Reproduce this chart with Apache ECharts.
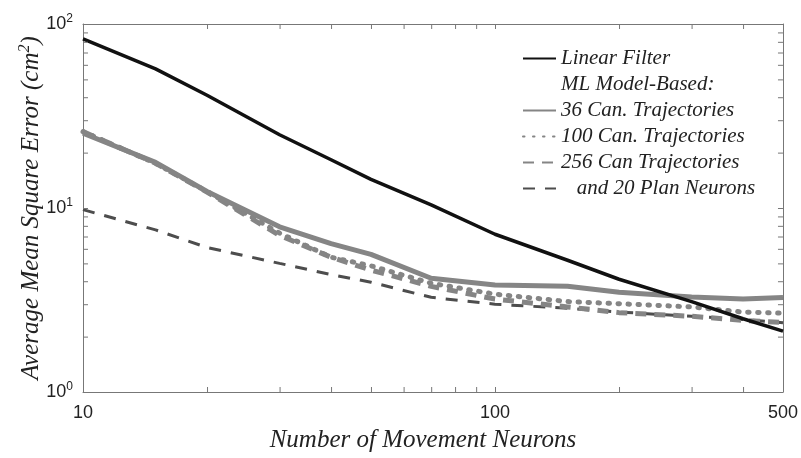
<!DOCTYPE html>
<html>
<head>
<meta charset="utf-8">
<script src="https://cdn.jsdelivr.net/npm/echarts@6/dist/echarts.min.js"></script>
<style>
  html, body { margin: 0; padding: 0; background: #fff; }
  #chart { width: 801px; height: 458px; }
</style>
</head>
<body>
<div id="chart"></div>
<script>
// number of movement neurons (x) and average MSE in cm^2 (y)
var nNeurons = [10, 15, 20, 30, 40, 50, 70, 100, 150, 200, 300, 400, 500];
var linearFilter = [83, 57, 41, 25, 18.3, 14.3, 10.4, 7.2, 5.2, 4.1, 3.1, 2.5, 2.14];
var can36 = [25.5, 17.7, 12.3, 7.9, 6.4, 5.6, 4.15, 3.82, 3.76, 3.48, 3.28, 3.2, 3.26];
var can100 = [26, 17.5, 12.3, 7.3, 5.4, 4.85, 3.9, 3.4, 3.1, 3.02, 2.9, 2.72, 2.68];
var can256 = [26, 17.5, 12.2, 7.1, 5.4, 4.6, 3.75, 3.2, 2.9, 2.7, 2.58, 2.45, 2.39];
var plan20 = [9.8, 7.6, 6.1, 5.0, 4.35, 3.95, 3.27, 3.0, 2.85, 2.72, 2.58, 2.48, 2.38];

var xLabels = [10, 100, 500];
var xTicks = [20, 30, 40, 50, 60, 70, 80, 90, 100, 200, 300, 400];
var yLabels = [1, 10, 100];
var yTicks = [2, 3, 4, 5, 6, 7, 8, 9, 10, 20, 30, 40, 50, 60, 70, 80, 90];

var legendNames = ['Linear Filter', 'ML Model-Based:', '36 Can. Trajectories',
  '100 Can. Trajectories', '256 Can Trajectories', '   and 20 Plan Neurons'];

function pairs(ys) {
  return nNeurons.map(function (x, i) { return [x, ys[i]]; });
}

var frameColor = '#777';
var tickLen = 5;
var serif = '"Liberation Serif", "DejaVu Serif", serif';
var sans = '"Liberation Sans", Arial, sans-serif';

function xAxisOf(pos, showLabels) {
  return {
    type: 'log', logBase: 10, min: 10, max: 500, position: pos,
    axisLine: { show: true, lineStyle: { color: frameColor, width: 1 } },
    axisTick: { show: false },
    splitLine: { show: false },
    axisLabel: { show: showLabels, customValues: xLabels, margin: 12,
      fontFamily: sans, fontSize: 18, color: '#222' }
  };
}

function yAxisOf(pos, showLabels) {
  return {
    type: 'log', logBase: 10, min: 1, max: 100, position: pos,
    axisLine: { show: true, lineStyle: { color: frameColor, width: 1 } },
    axisTick: { show: false },
    splitLine: { show: false },
    axisLabel: {
      show: showLabels, customValues: yLabels, margin: 10,
      formatter: function (v) {
        return '{b|10}{s|' + Math.round(Math.log10(v)) + '}';
      },
      rich: {
        b: { fontFamily: sans, fontSize: 18, color: '#222', lineHeight: 22 },
        s: { fontFamily: sans, fontSize: 12, color: '#222', lineHeight: 12, verticalAlign: 'top' }
      }
    }
  };
}

var xBottom = xAxisOf('bottom', true);
xBottom.name = 'Number of Movement Neurons';
xBottom.nameLocation = 'middle';
xBottom.nameGap = 36;
xBottom.nameMoveOverlap = false;
xBottom.nameTextStyle = { fontFamily: serif, fontStyle: 'italic', fontSize: 25, color: '#222',
  padding: [0, 20, 0, 0] };

var yLeft = yAxisOf('left', true);
yLeft.name = '{t|Average Mean Square Error (cm}{s|2}{t|)}';
yLeft.nameLocation = 'middle';
yLeft.nameGap = 38;
yLeft.nameMoveOverlap = false;
yLeft.nameTextStyle = {
  rich: {
    t: { fontFamily: serif, fontStyle: 'italic', fontSize: 25, color: '#222', lineHeight: 28 },
    s: { fontFamily: serif, fontStyle: 'italic', fontSize: 16, color: '#222', lineHeight: 16, verticalAlign: 'top' }
  }
};

// inward tick marks on all four sides, placed through the axes
function tickLine(x1, y1, x2, y2) {
  return { type: 'line', shape: { x1: x1, y1: y1, x2: x2, y2: y2 },
    style: { stroke: frameColor, lineWidth: 1 } };
}
var xTickSeries = {
  type: 'custom', silent: true, clip: false, z: 5,
  data: xTicks.map(function (v) { return [v, 1]; }),
  renderItem: function (params, api) {
    var v = api.value(0);
    var b = api.coord([v, 1]);
    var t = api.coord([v, 100]);
    return { type: 'group', children: [
      tickLine(b[0] + 0.5, b[1], b[0] + 0.5, b[1] - tickLen),
      tickLine(t[0] + 0.5, t[1], t[0] + 0.5, t[1] + tickLen)
    ] };
  }
};
var yTickSeries = {
  type: 'custom', silent: true, clip: false, z: 5,
  data: yTicks.map(function (v) { return [10, v]; }),
  renderItem: function (params, api) {
    var v = api.value(1);
    var l = api.coord([10, v]);
    var r = api.coord([500, v]);
    return { type: 'group', children: [
      tickLine(l[0], l[1] + 0.5, l[0] + tickLen, l[1] + 0.5),
      tickLine(r[0], r[1] + 0.5, r[0] - tickLen, r[1] + 0.5)
    ] };
  }
};

var grayLine = '#858585';

var option = {
  backgroundColor: '#fff',
  animation: false,
  grid: { left: 83, right: 17, top: 24, bottom: 65 },
  xAxis: [xBottom, xAxisOf('top', false)],
  yAxis: [yLeft, yAxisOf('right', false)],
  legend: {
    data: legendNames,
    orient: 'vertical',
    left: 517, top: 43,
    itemWidth: 33, itemHeight: 14, itemGap: 5,
    itemStyle: { opacity: 0 },
    selectedMode: false,
    textStyle: { fontFamily: serif, fontStyle: 'italic', fontSize: 21, color: '#222', lineHeight: 20 }
  },
  series: [
    xTickSeries,
    yTickSeries,
    { name: legendNames[1], type: 'line', data: [], symbol: 'none',
      lineStyle: { width: 0, color: 'rgba(0,0,0,0)' } },
    { name: legendNames[5], type: 'line', data: pairs(plan20), symbol: 'none',
      lineStyle: { color: '#4d4d4d', width: 3, type: [12, 10] }, itemStyle: { color: '#4d4d4d' } },
    { name: legendNames[4], type: 'line', data: pairs(can256), symbol: 'none',
      lineStyle: { color: grayLine, width: 5, type: [11, 8] }, itemStyle: { color: grayLine } },
    { name: legendNames[3], type: 'line', data: pairs(can100), symbol: 'none',
      lineStyle: { color: grayLine, width: 5, type: [1.5, 8.5], cap: 'round' }, itemStyle: { color: grayLine } },
    { name: legendNames[2], type: 'line', data: pairs(can36), symbol: 'none',
      lineStyle: { color: grayLine, width: 5 }, itemStyle: { color: grayLine } },
    { name: legendNames[0], type: 'line', data: pairs(linearFilter), symbol: 'none',
      lineStyle: { color: '#111', width: 3.5 }, itemStyle: { color: '#111' } }
  ]
};

var chart = echarts.init(document.getElementById('chart'));
chart.setOption(option);
</script>
</body>
</html>
